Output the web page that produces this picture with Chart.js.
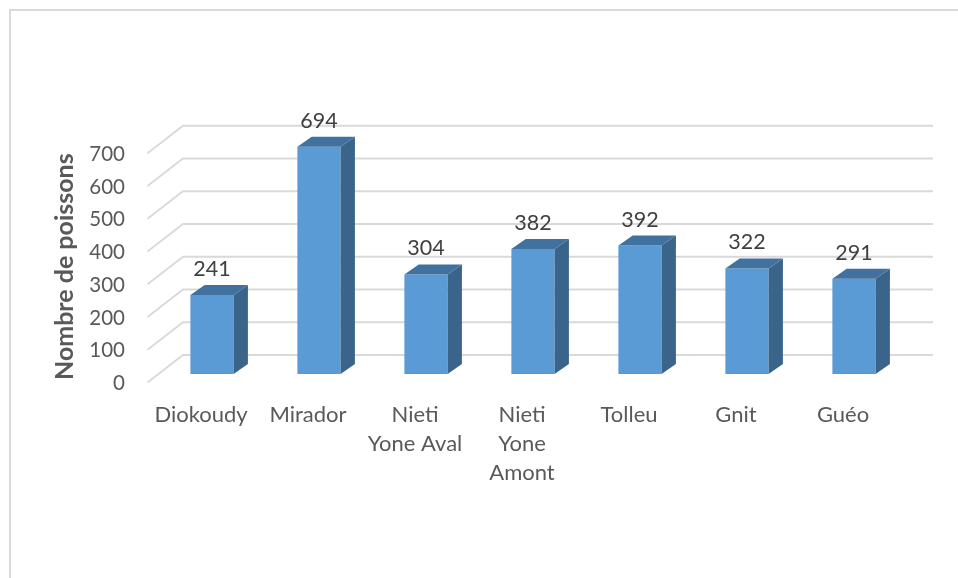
<!DOCTYPE html>
<html>
<head>
<meta charset="utf-8">
<script src="https://cdn.jsdelivr.net/npm/chart.js@4"></script>
<style>
html,body{margin:0;padding:0;background:#fff;width:958px;height:578px;overflow:hidden}
#frame{position:absolute;left:9px;top:9px;right:0;bottom:0;border-left:2px solid #d9d9d9;border-top:2px solid #d9d9d9}
canvas{position:absolute;left:0;top:0}
</style>
</head>
<body>
<div id="frame"></div>
<canvas id="c" width="958" height="578"></canvas>
<script>
const categories = ["Diokoudy","Mirador",["Nieti","Yone Aval"],["Nieti","Yone","Amont"],"Tolleu","Gnit","Guéo"];
const fishCounts = [241,694,304,382,392,322,291];
const yAxisTitle = "Nombre de poissons";
const FONT = "Lato";
const depth3d = {
  id:"depth3d",
  beforeDatasetsDraw(chart){
    const {ctx,chartArea:a,scales:{y}} = chart;
    ctx.save();
    ctx.strokeStyle="#d9d9d9"; ctx.lineWidth=1.8;
    y.ticks.forEach(t=>{
      const p=y.getPixelForValue(t.value);
      ctx.beginPath();
      ctx.moveTo(a.left-11,p+8.5);
      ctx.lineTo(a.left+24.5,p-19);
      ctx.lineTo(a.right+25.5,p-19);
      ctx.stroke();
    });
    ctx.restore();
  },
  afterDatasetsDraw(chart){
    const {ctx}=chart;
    const meta=chart.getDatasetMeta(0);
    const dx=14.3,dy=-10;
    ctx.save();
    meta.data.forEach((b,i)=>{
      const l=b.x-b.width/2,r=b.x+b.width/2,t=b.y,base=b.base;
      ctx.fillStyle="#3a6489";
      ctx.beginPath();ctx.moveTo(r,t);ctx.lineTo(r+dx,t+dy);ctx.lineTo(r+dx,base+dy);ctx.lineTo(r,base);ctx.closePath();ctx.fill();
      ctx.fillStyle="#41729f";
      ctx.beginPath();ctx.moveTo(l,t);ctx.lineTo(l+dx,t+dy);ctx.lineTo(r+dx,t+dy);ctx.lineTo(r,t);ctx.closePath();ctx.fill();
      ctx.fillStyle="#404040";
      ctx.font="21.5px "+FONT;ctx.textAlign="center";ctx.textBaseline="middle";
      ctx.fillText(String(fishCounts[i]),b.x,t-26);
    });
    ctx.restore();
  }
};
new Chart(document.getElementById("c"),{
  type:"bar",
  plugins:[depth3d],
  data:{labels:categories,datasets:[{data:fishCounts,backgroundColor:"#5b9bd5",borderWidth:0,categoryPercentage:1,barPercentage:0.404}]},
  options:{
    responsive:false,animation:false,
    layout:{padding:{top:112,right:50.5,left:0,bottom:0}},
    plugins:{legend:{display:false},tooltip:{enabled:false}},
    scales:{
      x:{
        grid:{display:false},border:{display:false},
        afterFit(s){s.height=198;},
        ticks:{autoSkip:false,maxRotation:0,minRotation:0,labelOffset:-11,padding:12,color:"#595959",font:{family:FONT,size:22,lineHeight:1.32}}
      },
      y:{
        min:-18.3,max:800,
        grid:{display:false,drawTicks:false},border:{display:false},
        afterFit(s){s.width=158.5;},
        afterBuildTicks(s){s.ticks=[0,100,200,300,400,500,600,700].map(v=>({value:v}));},
        ticks:{padding:33.5,labelOffset:9.5,color:"#595959",font:{family:FONT,size:20.5}},
        title:{display:true,text:yAxisTitle,align:"start",color:"#595959",font:{family:FONT,size:25,weight:"bold"},padding:{top:50,bottom:0}}
      }
    }
  }
});
</script>
</body>
</html>
